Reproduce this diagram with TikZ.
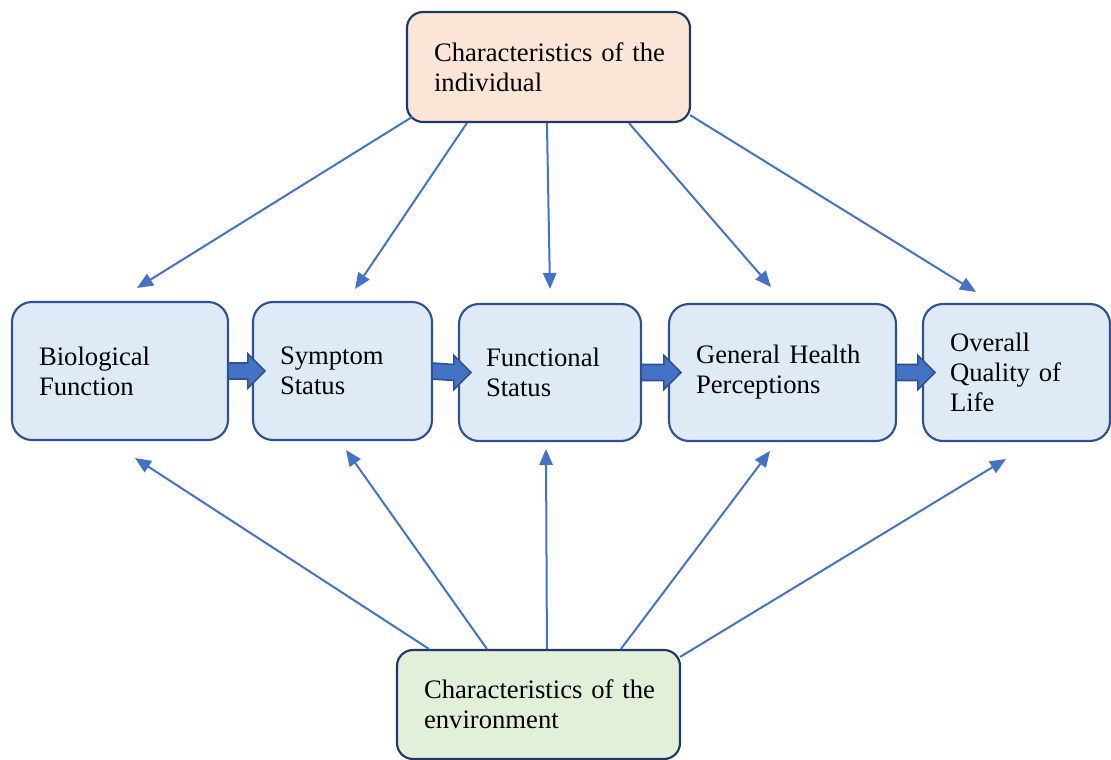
\documentclass[tikz,border=0pt]{standalone}
\usepackage{fontspec}
\setmainfont{Liberation Serif}
\usetikzlibrary{arrows.meta,calc}

\definecolor{boxline}{HTML}{2F528F}
\definecolor{darkline}{HTML}{1F3864}
\definecolor{arrowblue}{HTML}{4472C4}
\definecolor{stagefill}{HTML}{DEEBF7}
\definecolor{indivfill}{HTML}{FBE5D6}
\definecolor{envfill}{HTML}{E2F0D9}

\tikzset{
  labelbox/.style={draw, line width=1.6pt, align=left, inner xsep=20.25pt,
    inner ysep=0pt, font=\fontsize{20}{22.5}\selectfont,
    execute at begin node={\hbadness=10000\hfuzz=60pt}},
  stagebox/.style={labelbox, draw=boxline, fill=stagefill, rounded corners=15pt,
    minimum height=103.5pt},
  factorbox/.style={labelbox, draw=darkline, rounded corners=12pt},
  conn/.style={draw=arrowblue, line width=1.5pt,
    -{Triangle[length=12pt, width=10pt]}},
  blockarrow/.style={fill=arrowblue, draw=boxline, line width=1.2pt, line join=miter}
}

% horizontal block arrow from box #1 into box #2
\newcommand{\stagearrow}[2]{%
  \draw[blockarrow] ($(#1.east)+(-1,-8)$) -- ($(#2.west)+(-4,-8)$)
    -- ($(#2.west)+(-4,-17)$) -- ($(#2.west)+(13,0)$)
    -- ($(#2.west)+(-4,17)$) -- ($(#2.west)+(-4,8)$)
    -- ($(#1.east)+(-1,8)$) -- cycle;}

\begin{document}
\begin{tikzpicture}[x=0.75pt,y=-0.75pt]
\useasboundingbox (0,0) rectangle (1111,760);

% outer factors
\node[factorbox, fill=indivfill, text width=171.75pt, minimum height=82.5pt]
  (indiv) at (548.5,67) {\mbox{Characteristics of the}\\individual};
\node[factorbox, fill=envfill, text width=171.75pt, minimum height=81.75pt]
  (env) at (538.5,704.5) {\mbox{Characteristics of the}\\environment};

% sequence of stages
\node[stagebox, text width=121.5pt] (bio) at (120,371) {Biological\\Function};
\node[stagebox, text width=93.75pt] (sym) at (342.5,371) {Symptom\\Status};
\node[stagebox, text width=96pt, minimum height=102.75pt] (fun) at (550,372.5) {Functional\\Status};
\node[stagebox, text width=129.75pt, minimum height=102.75pt] (ghp) at (782.5,372.5) {\mbox{General Health}\\Perceptions};
\node[stagebox, text width=99.75pt, minimum height=102.75pt] (oql) at (1016.5,372.5) {Overall\\\mbox{Quality of}\\Life};

\stagearrow{bio}{sym}
\stagearrow{sym}{fun}
\stagearrow{fun}{ghp}
\stagearrow{ghp}{oql}

% arrow ends just outside the stage boxes
\coordinate (tbio) at (137,288);
\coordinate (tsym) at (355,289);
\coordinate (tfun) at (550,289);
\coordinate (tghp) at (771,287);
\coordinate (toql) at (976,292);
\coordinate (bbio) at (135,458);
\coordinate (bsym) at (346,450);
\coordinate (bfun) at (546,449);
\coordinate (bghp) at (770,451);
\coordinate (boql) at (1006,459);

% influences of the individual
\draw[conn] ($(indiv.south west)+(6,-6)$) -- (tbio);
\draw[conn] ($(indiv.south west)+(61,0)$) -- (tsym);
\draw[conn] ($(indiv.south west)+(141,0)$) -- (tfun);
\draw[conn] ($(indiv.south west)+(223,0)$) -- (tghp);
\draw[conn] ($(indiv.south east)+(-1,-8)$) -- (toql);

% influences of the environment
\draw[conn] ($(env.north west)+(33,0)$) -- (bbio);
\draw[conn] ($(env.north west)+(91,0)$) -- (bsym);
\draw[conn] ($(env.north west)+(151,0)$) -- (bfun);
\draw[conn] ($(env.north west)+(225,0)$) -- (bghp);
\draw[conn] ($(env.north east)+(-1,8)$) -- (boql);
\end{tikzpicture}
\end{document}
